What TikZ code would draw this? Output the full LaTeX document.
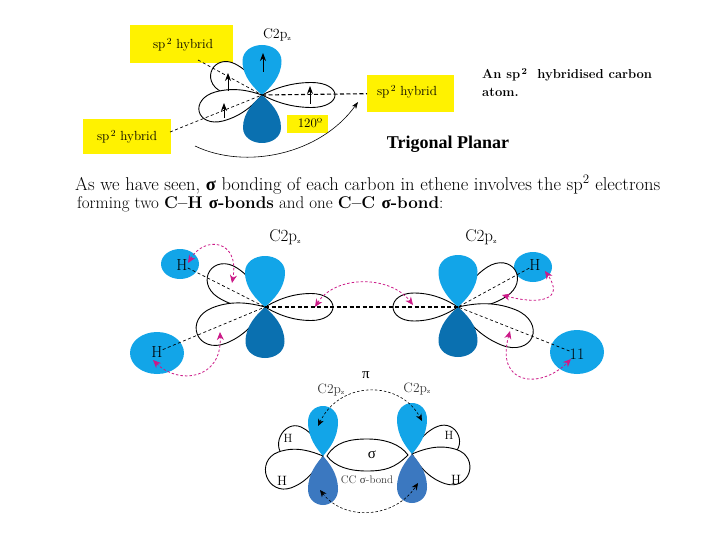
\documentclass[tikz,border=0pt]{standalone}
\usepackage{fontspec}
\newfontfamily\lib{Liberation Serif}
\usetikzlibrary{arrows.meta,shapes.geometric}
\definecolor{ltblue}{HTML}{12A5E8}
\definecolor{dkblue}{HTML}{0A70B0}
\definecolor{midblue}{HTML}{3B78C0}
\definecolor{hotpink}{HTML}{CC1A88}
\definecolor{ybox}{HTML}{FFF200}
\definecolor{grayink}{HTML}{3A3A3A}
\newcommand\lobeshape{(0,0) .. controls (.14,.2) and (.36,.5) .. (.68,.5) .. controls (.88,.5) and (1,.26) .. (1,0) .. controls (1,-.26) and (.88,-.5) .. (.68,-.5) .. controls (.36,-.5) and (.14,-.2) .. (0,0) -- cycle}
% #1 centre, #2 angle, #3 length, #4 width
\newcommand\wlobe[4]{\draw[shift={(#1)},rotate=#2,xscale=#3,yscale=#4,line width=.9pt,black,fill=white] \lobeshape;}
\newcommand\flobe[5]{\fill[shift={(#1)},rotate=#2,xscale=#3,yscale=#4,#5] \lobeshape;}
\newcommand\spsq{sp\textsuperscript{\,2}\ }
\newcommand\cpz{C2p\raisebox{-.25ex}{\scriptsize z}}
\newcommand\gk[1]{{\lib #1}}
\newcommand\fs[1]{\fontsize{#1}{#1}\selectfont}
\tikzset{
  ybx/.style={fill=ybox,inner sep=0pt,anchor=north west},
  lab/.style={inner sep=0pt},
  thickdash/.style={line width=1.1pt,dash pattern=on 4pt off 2.5pt},
  thindash/.style={line width=.7pt,dash pattern=on 3pt off 2.5pt},
  pinkarc/.style={hotpink,line width=.8pt,dash pattern=on 2.5pt off 2pt,{Stealth[length=8pt,width=7pt]}-{Stealth[length=8pt,width=7pt]}},
  blkarc/.style={black,line width=.6pt,dash pattern=on 2.5pt off 2pt,{Stealth[length=7pt,width=6pt]}-{Stealth[length=7pt,width=6pt]}},
  uparrow/.style={black,line width=.8pt,-{Stealth[length=8pt,width=6pt]}},
  hcirc/.style={fill=ltblue,draw=none,shape=ellipse,inner sep=0pt},
}
\begin{document}
\begin{tikzpicture}[x=1pt,y=-1pt]
\useasboundingbox[fill=white] (0,0) rectangle (720,540);
% ---- top carbon
\coordinate (ca) at (262,95);
\node[ybx,minimum width=103pt,minimum height=38pt] (b1) at (130,25) {};
\node[ybx,minimum width=87pt,minimum height=37pt] (b2) at (367,75) {};
\node[ybx,minimum width=88pt,minimum height=35pt] (b3) at (83,119) {};
\node[ybx,minimum width=41pt,minimum height=18pt] (b4) at (287,115) {};
\node[lab,font=\fs{13.2}] (t1) at (183,45) {\spsq hybrid};
\node[lab,font=\fs{13.2}] (t2) at (407,92) {\spsq hybrid};
\node[lab,font=\fs{13.2}] (t3) at (127,137) {\spsq hybrid};
\node[lab,font=\fs{13}] (t4) at (310,123) {120º};
\node[lab,font=\fs{14}] (t5) at (277,35) {\cpz};
\wlobe{ca}{153}{56}{31}
\wlobe{ca}{195}{65}{30}
\wlobe{ca}{0}{73}{25}
\flobe{ca}{90}{50}{39}{ltblue}
\flobe{ca}{-90}{48}{38}{dkblue}
\coordinate (c1) at (198,60);
\coordinate (c2) at (170,132);
\draw[thindash] (c1) -- (ca);
\draw[thindash] (c2) -- (ca);
\draw[thickdash] (ca) -- (b2.west);
\coordinate (u1a) at (263,72); \coordinate (u1b) at (263,53);
\coordinate (u2a) at (228,91); \coordinate (u2b) at (228,73);
\coordinate (u3a) at (224,118); \coordinate (u3b) at (224,103);
\coordinate (u4a) at (310,104); \coordinate (u4b) at (310,86);
\draw[uparrow] (u1a) -- (u1b);
\draw[uparrow] (u2a) -- (u2b);
\draw[uparrow] (u3a) -- (u3b);
\draw[uparrow] (u4a) -- (u4b);
\coordinate (ar1) at (195,146); \coordinate (ar2) at (358,102);
\draw[black,line width=.6pt,-{Stealth[length=7pt,width=5pt]}] (ar1) .. controls (245,170) and (320,155) .. (ar2);
% ---- text
\node[inner sep=0pt,anchor=west,font=\bfseries\fs{13}] (d1) at (482,75) {An sp\textsuperscript{\,2} \ hybridised carbon};
\node[inner sep=0pt,anchor=west,font=\bfseries\fs{13}] (d2) at (482,92) {atom.};
\node[inner sep=0pt,font=\lib\bfseries\fs{18}] (d3) at (448,144) {Trigonal Planar};
\node[inner sep=0pt,anchor=west,font=\fs{16.5}] (d4) at (75,185) {\resizebox{585pt}{!}{As we have seen, \textbf{\gk{σ}} bonding of each carbon in ethene involves the sp\textsuperscript{2} electrons}};
\node[inner sep=0pt,anchor=west,font=\fs{17}] (d5) at (77,204) {forming two \textbf{C--H \gk{σ}-bonds} and one \textbf{C--C \gk{σ}-bond}:};
% ---- middle diagram
\coordinate (cl) at (265,307);
\coordinate (cr) at (458,307);
\node[hcirc,minimum width=38pt,minimum height=30pt] (h1) at (180,264) {};
\node[hcirc,minimum width=54pt,minimum height=42pt] (h2) at (157,353) {};
\node[hcirc,minimum width=38pt,minimum height=30pt] (h3) at (533,267) {};
\node[hcirc,minimum width=54pt,minimum height=44pt] (h4) at (577,352) {};
\wlobe{cl}{147}{66}{35}
\wlobe{cl}{202}{73}{38}
\wlobe{cl}{0}{68}{27}
\wlobe{cr}{180}{65}{28}
\wlobe{cr}{33}{68}{35}
\wlobe{cr}{-22}{80}{38}
\flobe{cl}{90}{51}{40}{ltblue}
\flobe{cl}{-90}{51}{39}{dkblue}
\flobe{cr}{90}{52}{39}{ltblue}
\flobe{cr}{-90}{50}{39}{dkblue}
\node[lab,font=\fs{17}] (l1) at (285,237) {\cpz};
\node[lab,font=\fs{17}] (l2) at (481,237) {\cpz};
\node[lab,font=\fs{16}] (hh1) at (182,265) {H};
\node[lab,font=\fs{16}] (hh2) at (157,352) {H};
\node[lab,font=\fs{16}] (hh3) at (535,265) {H};
\node[lab,font=\fs{16}] (hh4) at (577,354) {11};
\draw[thickdash] (cl) -- (cr);
\draw[thindash] (hh1) -- (cl);
\draw[thindash] (hh2) -- (cl);
\draw[thindash] (hh3) -- (cr);
\draw[thindash] (hh4) -- (cr);
\coordinate (p1) at (188,263); \coordinate (p2) at (232,283);
\coordinate (p3) at (315,307); \coordinate (p4) at (413,305);
\coordinate (p5) at (153,360); \coordinate (p6) at (220,332);
\coordinate (p7) at (502,295); \coordinate (p8) at (545,271);
\coordinate (p9) at (510,331); \coordinate (p10) at (571,359);
\draw[pinkarc] (p1) .. controls (205,235) and (240,240) .. (p2);
\draw[pinkarc] (p3) .. controls (335,275) and (390,275) .. (p4);
\draw[pinkarc] (p5) .. controls (178,385) and (222,380) .. (p6);
\draw[pinkarc] (p7) .. controls (540,305) and (565,300) .. (p8);
\draw[pinkarc] (p9) .. controls (495,385) and (540,390) .. (p10);
% ---- bottom diagram
\coordinate (dl) at (323,456);
\coordinate (dr) at (412,454);
\wlobe{dl}{155}{47}{34}
\wlobe{dl}{200}{60}{38}
\wlobe{dr}{22}{50}{32}
\wlobe{dr}{-18}{60}{36}
\draw[black,line width=.9pt] (327,456) .. controls (335,442) and (350,439) .. (367,439) .. controls (385,439) and (400,444) .. (408,455) .. controls (395,468) and (385,471) .. (367,471) .. controls (350,471) and (335,467) .. (327,456) -- cycle;
\flobe{dl}{90}{50}{30}{ltblue}
\flobe{dl}{-90}{49}{30}{midblue}
\flobe{dr}{90}{51}{30}{ltblue}
\flobe{dr}{-90}{49}{30}{midblue}
\node[lab,font=\fs{13.5},text=grayink] (e1) at (331,390) {\cpz};
\node[lab,font=\fs{13.5},text=grayink] (e2) at (417,389) {\cpz};
\node[lab,font=\fs{12}] (e3) at (288,438) {H};
\node[lab,font=\fs{13.5}] (e4) at (282,481) {H};
\node[lab,font=\fs{12}] (e5) at (449,435) {H};
\node[lab,font=\fs{13.5}] (e6) at (456,480) {H};
\node[lab,font=\lib\fs{15}] (e7) at (372,455) {σ};
\node[lab,font=\lib\fs{15}] (e8) at (366,375) {π};
\node[lab,font=\fs{11},text=grayink] (e9) at (367,480) {CC \gk{σ}-bond};
\coordinate (q1) at (318,426); \coordinate (q2) at (422,421);
\coordinate (q3) at (320,490); \coordinate (q4) at (418,483);
\draw[blkarc] (q1) .. controls (340,380) and (400,380) .. (q2);
\draw[blkarc] (q3) .. controls (345,522) and (395,518) .. (q4);
\end{tikzpicture}
\end{document}
